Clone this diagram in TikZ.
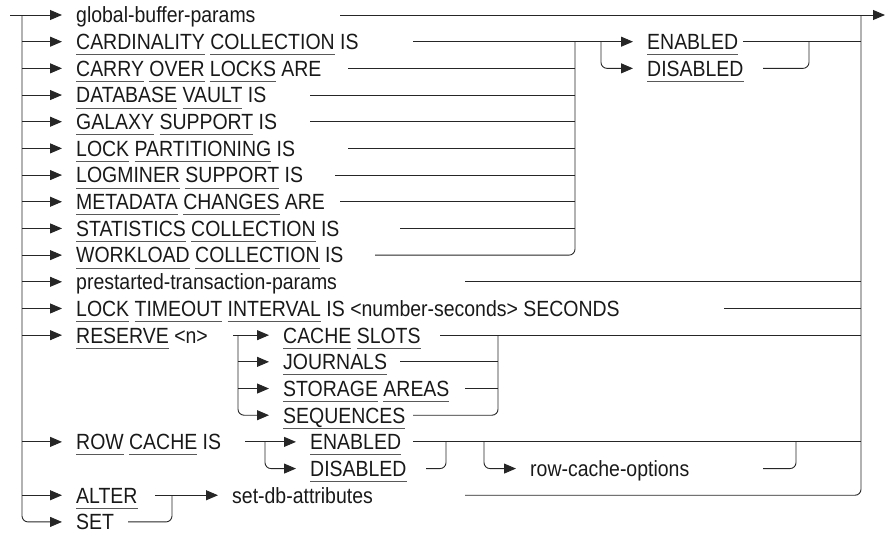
\documentclass[tikz,border=0pt]{standalone}
\usepackage{fontspec}
\setmainfont{Liberation Sans}[FakeStretch=0.885]
\usepackage{tikz}
\usetikzlibrary{
    arrows.meta,
    calc,
    positioning
}
\newcommand{\rr}{\fontsize{22}{26}\selectfont}
\newcommand{\ry}[1]{-11.68+#1*26.68}
% keyword with its underline
\newcommand{\kw}[1]{\setbox0\hbox{#1}\rlap{\color{black!65}\rule[-5.5pt]{\wd0}{0.9pt}}\box0\relax}
\tikzset{
    rail/.style={draw=black!85, line width=0.9pt, rounded corners=6pt},
    rarr/.style={rail, -{Triangle[length=12pt,width=10pt]}, shorten >=14pt},
    word/.style={anchor=west, inner sep=0pt, text height=15.75pt, text depth=0pt, font=\rr, text=black!90}
}

\begin{document}
\begin{tikzpicture}[x=1pt, y=-1pt]
\useasboundingbox (0,0) rectangle (886,533);
\coordinate (lstart) at (10,\ry{1});
\coordinate (ltrunk) at (22,\ry{1});
\coordinate (rtop) at (861,\ry{1});
\coordinate (rbot) at (861,\ry{19});
\coordinate (exit) at (885,\ry{1});

% first row and main exit
\node[word] (gbp) at (76,\ry{1}) {global-buffer-params};
\draw[rarr] (lstart) -- (gbp.west);
\coordinate (gbpe) at (340,\ry{1});
\draw[rail, -{Triangle[length=12pt,width=10pt]}] (gbpe) -- (exit);

% collection rows
\coordinate (cm2) at (575,\ry{2});
\foreach \i/\txt/\xe in {
    2/{\kw{CARDINALITY} \kw{COLLECTION} IS}/413,
    3/{\kw{CARRY} \kw{OVER} \kw{LOCKS} ARE}/348,
    4/{\kw{DATABASE} \kw{VAULT} IS}/310,
    5/{\kw{GALAXY} \kw{SUPPORT} IS}/310,
    6/{\kw{LOCK} \kw{PARTITIONING} IS}/348,
    7/{\kw{LOGMINER} \kw{SUPPORT} IS}/335,
    8/{\kw{METADATA} \kw{CHANGES} ARE}/340,
    9/{\kw{STATISTICS} \kw{COLLECTION} IS}/400,
    10/{\kw{WORKLOAD} \kw{COLLECTION} IS}/375} {
    \node[word] (c\i) at (76,\ry{\i}) {\txt};
    \coordinate (ce\i) at (\xe,\ry{\i});
    \draw[rarr] (ltrunk |- c\i.west) -- (c\i.west);
}
\foreach \i in {3,...,9}
    \draw[rail] (ce\i) -- (cm2 |- c\i.west);
\draw[rail] (ce10) -- (cm2 |- c10.west) -- (cm2);

% enabled / disabled after the collection rows
\node[word] (en1) at (647,\ry{2}) {\kw{ENABLED}};
\node[word] (dis1) at (647,\ry{3}) {\kw{DISABLED}};
\coordinate (eb1) at (601,\ry{2});
\draw[rarr] (ce2) -- (en1.west);
\draw[rarr] (eb1) |- (dis1.west);
\coordinate (ee1) at (743,\ry{2});
\coordinate (ed1) at (763,\ry{3});
\coordinate (em1) at (809,\ry{2});
\draw[rail] (ee1) -- (rtop |- en1.west);
\draw[rail] (ed1) -| (em1);

% prestarted-transaction-params
\node[word] (pst) at (76,\ry{11}) {prestarted-transaction-params};
\coordinate (pste) at (465,\ry{11});
\draw[rarr] (ltrunk |- pst.west) -- (pst.west);
\draw[rail] (pste) -- (rtop |- pst.west);

% lock timeout
\node[word] (lti) at (76,\ry{12}) {\kw{LOCK} \kw{TIMEOUT} \kw{INTERVAL} IS <number-seconds> SECONDS};
\coordinate (ltie) at (724,\ry{12});
\draw[rarr] (ltrunk |- lti.west) -- (lti.west);
\draw[rail] (ltie) -- (rtop |- lti.west);

% reserve
\node[word] (res) at (76,\ry{13}) {\kw{RESERVE} <n>};
\node[word] (cs) at (283,\ry{13}) {\kw{CACHE} \kw{SLOTS}};
\node[word] (jn) at (283,\ry{14}) {\kw{JOURNALS}};
\node[word] (sa) at (283,\ry{15}) {\kw{STORAGE} \kw{AREAS}};
\node[word] (sq) at (283,\ry{16}) {\kw{SEQUENCES}};
\coordinate (rese) at (233,\ry{13});
\coordinate (resb) at (238,\ry{13});
\coordinate (rsm) at (498,\ry{13});
\draw[rarr] (ltrunk |- res.west) -- (res.west);
\draw[rarr] (rese) -- (cs.west);
\foreach \n in {jn,sa}
    \draw[rarr] (resb |- \n.west) -- (\n.west);
\draw[rarr] (resb) |- (sq.west);
\coordinate (cse) at (440,\ry{13});
\coordinate (jne) at (400,\ry{14});
\coordinate (sae) at (465,\ry{15});
\coordinate (sqe) at (413,\ry{16});
\draw[rail] (cse) -- (rtop |- cs.west);
\draw[rail] (jne) -- (rsm |- jn.west);
\draw[rail] (sae) -- (rsm |- sa.west);
\draw[rail] (sqe) -| (rsm);

% row cache
\node[word] (rc) at (76,\ry{17}) {\kw{ROW} \kw{CACHE} IS};
\node[word] (en2) at (310,\ry{17}) {\kw{ENABLED}};
\node[word] (dis2) at (310,\ry{18}) {\kw{DISABLED}};
\node[word] (rco) at (530,\ry{18}) {row-cache-options};
\coordinate (rce) at (245,\ry{17});
\coordinate (rcb) at (265,\ry{17});
\draw[rarr] (ltrunk |- rc.west) -- (rc.west);
\draw[rarr] (rce) -- (en2.west);
\draw[rarr] (rcb) |- (dis2.west);
\coordinate (ee2) at (413,\ry{17});
\coordinate (ed2) at (426,\ry{18});
\coordinate (em2) at (446,\ry{17});
\draw[rail] (ee2) -- (rtop |- en2.west);
\draw[rail] (ed2) -| (em2);
\coordinate (rcob) at (484,\ry{17});
\coordinate (rcoe) at (763,\ry{18});
\coordinate (rcom) at (796,\ry{17});
\draw[rarr] (rcob) |- (rco.west);
\draw[rail] (rcoe) -| (rcom);

% alter / set
\node[word] (alt) at (76,\ry{19}) {\kw{ALTER}};
\node[word] (set) at (76,\ry{20}) {\kw{SET}};
\node[word] (sda) at (232,\ry{19}) {set-db-attributes};
\coordinate (alte) at (155,\ry{19});
\coordinate (sete) at (128,\ry{20});
\coordinate (asm) at (172,\ry{19});
\draw[rarr] (ltrunk |- alt.west) -- (alt.west);
\draw[rarr] (ltrunk) |- (set.west);
\draw[rarr] (alte) -- (sda.west);
\draw[rail] (sete) -| (asm);
\coordinate (sdae) at (465,\ry{19});
\draw[rail] (sdae) -- (rbot) -- (rtop);
\end{tikzpicture}
\end{document}
